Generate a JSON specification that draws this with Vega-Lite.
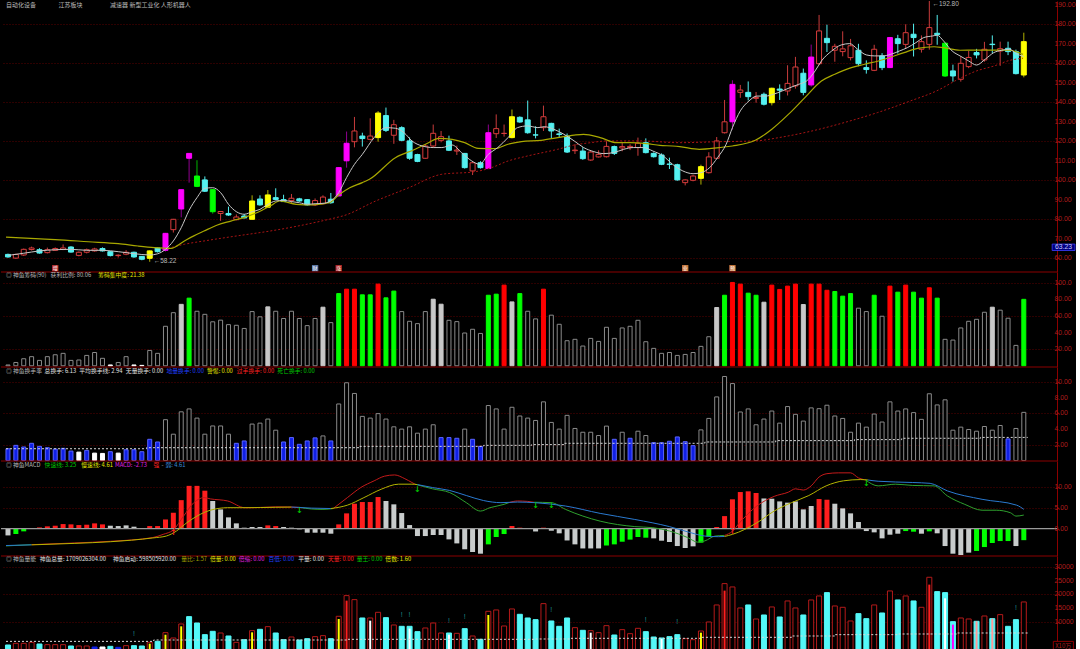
{
"$schema":"https://vega.github.io/schema/vega-lite/v6.json",
"background":"#000000",
"padding":0,
"bounds":"flush",
"spacing":0,
"config":{
 "view":{"stroke":null,"fill":"#000000"},
 "axis":{"domainColor":"#8c0000","tickColor":"#8c0000","labelColor":"#b01c1c","labelFont":"Liberation Sans","labelFontSize":6.9,"tickSize":2,"labelPadding":0.5,"gridColor":"#5a0000","gridDash":[1,2],"gridWidth":1,"labelOverlap":false,"labelFlush":false,"minExtent":0},
 "text":{"font":"Noto Sans CJK SC"}
},
"datasets":{
"k":[
{"i":0,"o":62.0,"h":62.4,"l":60.3,"c":60.7,"k":"dn","cm":1,"ck":"h","t":1.5,"tk":"b","m":-1.6,"mk":"s","v":1800,"vk":"dn"},
{"i":1,"o":60.1,"h":62.3,"l":59.8,"c":62.0,"k":"up","cm":4,"ck":"h","t":1.93,"tk":"b","m":-1.27,"mk":"n","v":2400,"vk":"up"},
{"i":2,"o":61.7,"h":65.0,"l":61.2,"c":64.6,"k":"up","cm":8.5,"ck":"h","t":1.72,"tk":"b","m":-0.63,"mk":"n","v":2400,"vk":"up"},
{"i":3,"o":64.5,"h":66.0,"l":64.0,"c":65.3,"k":"up","cm":11,"ck":"h","t":2.19,"tk":"b","m":0.05,"mk":"s","v":2760,"vk":"up"},
{"i":4,"o":64.4,"h":65.2,"l":62.4,"c":62.7,"k":"dn","cm":6.5,"ck":"h","t":1.8,"tk":"b","m":0.3,"mk":"r","v":2160,"vk":"dn"},
{"i":5,"o":62.9,"h":65.5,"l":62.5,"c":64.4,"k":"up","cm":11,"ck":"h","t":1.63,"tk":"b","m":0.56,"mk":"r","v":1920,"vk":"up"},
{"i":6,"o":64.1,"h":65.6,"l":63.8,"c":65.0,"k":"up","cm":13.3,"ck":"h","t":1.46,"tk":"b","m":0.71,"mk":"r","v":1920,"vk":"up"},
{"i":7,"o":64.5,"h":67.1,"l":64.2,"c":65.3,"k":"up","cm":15,"ck":"h","t":1.55,"tk":"b","m":1.1,"mk":"r","v":1920,"vk":"up"},
{"i":8,"o":65.8,"h":66.2,"l":62.9,"c":63.2,"k":"dn","cm":6.5,"ck":"h","t":1.2,"tk":"b","m":1.03,"mk":"r","v":1440,"vk":"dn"},
{"i":9,"o":61.5,"h":63.5,"l":61.0,"c":63.1,"k":"up","cm":7,"ck":"h","t":1.07,"tk":"w","m":0.87,"mk":"r","v":1440,"vk":"up"},
{"i":10,"o":63.1,"h":65.0,"l":62.5,"c":64.4,"k":"up","cm":12.5,"ck":"h","t":1.29,"tk":"b","m":0.95,"mk":"r","v":1440,"vk":"up"},
{"i":11,"o":63.8,"h":65.4,"l":63.4,"c":64.8,"k":"up","cm":16,"ck":"h","t":0.94,"tk":"w","m":1.27,"mk":"r","v":1080,"vk":"bl"},
{"i":12,"o":65.0,"h":65.6,"l":63.5,"c":63.8,"k":"dn","cm":9,"ck":"h","t":0.9,"tk":"w","m":1.03,"mk":"r","v":1080,"vk":"wh"},
{"i":13,"o":63.4,"h":63.7,"l":61.0,"c":61.4,"k":"dn","cm":1,"ck":"wt","t":1.12,"tk":"b","m":0.71,"mk":"s","v":1320,"vk":"dn"},
{"i":14,"o":61.4,"h":62.0,"l":60.4,"c":61.6,"k":"up","cm":4,"ck":"h","t":0.94,"tk":"w","m":0.63,"mk":"s","v":960,"vk":"bl"},
{"i":15,"o":62.1,"h":64.2,"l":61.6,"c":63.1,"k":"up","cm":11,"ck":"h","t":1.37,"tk":"b","m":0.79,"mk":"s","v":1560,"vk":"up"},
{"i":16,"o":63.1,"h":63.4,"l":60.3,"c":60.7,"k":"dn","cm":1,"ck":"wt","t":1.37,"tk":"b","m":0.48,"mk":"s","v":1560,"vk":"dn"},
{"i":17,"o":61.0,"h":61.2,"l":59.0,"c":59.5,"k":"dn","cm":0.5,"ck":"wt","t":1.12,"tk":"b","m":0.16,"mk":"s","v":1440,"vk":"dn"},
{"i":18,"o":60.0,"h":64.0,"l":58.22,"c":63.8,"k":"yel","cm":18.5,"ck":"h","t":2.7,"tk":"b","m":0.63,"mk":"r","v":2760,"vk":"up","vi":2300,"vik":"yel"},
{"i":19,"o":65.3,"h":65.6,"l":63.0,"c":63.4,"k":"dn","cm":15,"ck":"h","t":2.36,"tk":"b","m":0.63,"mk":"r","v":3120,"vk":"dn"},
{"i":20,"o":64.1,"h":73.0,"l":63.5,"c":72.8,"k":"mag","cm":47.6,"ck":"h","t":5.2,"tk":"h","m":2.2,"mk":"r","v":6240,"vk":"up","vi":5500,"vik":"yel"},
{"i":21,"o":74.7,"h":80.2,"l":73.2,"c":80.0,"k":"up","cm":64,"ck":"h","t":3.35,"tk":"h","m":3.8,"mk":"r","v":4320,"vk":"up"},
{"i":22,"o":85.3,"h":95.2,"l":81.0,"c":95.2,"k":"mag","cm":74,"ck":"sv","t":6.2,"tk":"h","m":6.8,"mk":"r","v":9360,"vk":"up","vi":8520,"vik":"yel"},
{"i":23,"o":111.3,"h":113.9,"l":98.8,"c":113.8,"k":"mag","cm":81.5,"ck":"gn","t":6.57,"tk":"h","m":10.2,"mk":"r","v":12000,"vk":"dn"},
{"i":24,"o":102.2,"h":110.3,"l":96.5,"c":96.9,"k":"grn","cm":65.7,"ck":"h","t":5.4,"tk":"h","m":10.2,"mk":"r","v":9720,"vk":"dn"},
{"i":25,"o":100.2,"h":102.0,"l":94.0,"c":94.4,"k":"dn","cm":62,"ck":"h","t":3.35,"tk":"h","m":9.05,"mk":"r","v":5520,"vk":"dn"},
{"i":26,"o":95.2,"h":95.5,"l":82.9,"c":83.9,"k":"grn","cm":53,"ck":"h","t":4.4,"tk":"h","m":6.6,"mk":"s","v":6720,"vk":"dn"},
{"i":27,"o":83.0,"h":84.2,"l":79.2,"c":84.0,"k":"up","cm":55,"ck":"h","t":4.4,"tk":"h","m":4.6,"mk":"s","v":6120,"vk":"up"},
{"i":28,"o":83.0,"h":86.5,"l":81.8,"c":82.2,"k":"dn","cm":49.6,"ck":"h","t":3.35,"tk":"h","m":2.7,"mk":"s","v":5040,"vk":"dn"},
{"i":29,"o":79.8,"h":82.5,"l":79.5,"c":81.2,"k":"up","cm":48.8,"ck":"h","t":2.19,"tk":"b","m":1.27,"mk":"s","v":2760,"vk":"up"},
{"i":30,"o":81.7,"h":82.7,"l":80.5,"c":80.7,"k":"dn","cm":45,"ck":"h","t":2.49,"tk":"b","m":0.24,"mk":"s","v":3720,"vk":"dn"},
{"i":31,"o":80.0,"h":92.3,"l":80.0,"c":89.4,"k":"yel","cm":65.3,"ck":"h","t":4.64,"tk":"h","m":0.4,"mk":"s","v":6960,"vk":"up","vi":6360,"vik":"yel"},
{"i":32,"o":90.4,"h":92.3,"l":87.0,"c":87.4,"k":"dn","cm":59,"ck":"h","t":4.76,"tk":"h","m":0.4,"mk":"s","v":7440,"vk":"dn"},
{"i":33,"o":86.2,"h":95.0,"l":86.0,"c":92.5,"k":"yel","cm":71,"ck":"sv","t":5.28,"tk":"h","m":0.79,"mk":"r","v":8400,"vk":"up"},
{"i":34,"o":91.1,"h":95.9,"l":89.8,"c":90.2,"k":"dn","cm":65.7,"ck":"h","t":3.86,"tk":"h","m":0.63,"mk":"r","v":6120,"vk":"dn"},
{"i":35,"o":90.1,"h":92.6,"l":88.9,"c":89.1,"k":"dn","cm":57,"ck":"h","t":2.36,"tk":"b","m":0.4,"mk":"s","v":3720,"vk":"dn"},
{"i":36,"o":89.6,"h":93.0,"l":88.0,"c":90.8,"k":"up","cm":65.7,"ck":"h","t":2.92,"tk":"b","m":0.24,"mk":"s","v":4680,"vk":"up"},
{"i":37,"o":90.5,"h":91.0,"l":89.0,"c":89.4,"k":"dn","cm":57,"ck":"h","t":2.06,"tk":"b","m":-0.16,"mk":"s","v":3600,"vk":"dn"},
{"i":38,"o":90.1,"h":90.4,"l":87.0,"c":87.4,"k":"dn","cm":48.4,"ck":"h","t":2.49,"tk":"b","m":-0.95,"mk":"s","v":4080,"vk":"dn"},
{"i":39,"o":87.4,"h":90.7,"l":86.8,"c":89.6,"k":"up","cm":57,"ck":"h","t":2.88,"tk":"b","m":-0.95,"mk":"s","v":4800,"vk":"up"},
{"i":40,"o":88.0,"h":92.3,"l":87.6,"c":91.4,"k":"up","cm":70.6,"ck":"sv","t":3.13,"tk":"h","m":-0.95,"mk":"s","v":5160,"vk":"up"},
{"i":41,"o":90.3,"h":93.5,"l":88.0,"c":88.5,"k":"dn","cm":52,"ck":"h","t":2.49,"tk":"b","m":-1.19,"mk":"s","v":4080,"vk":"dn"},
{"i":42,"o":92.0,"h":106.8,"l":91.8,"c":106.5,"k":"mag","cm":87,"ck":"gn","t":7.2,"tk":"h","m":1.03,"mk":"r","v":12120,"vk":"up","vi":11160,"vik":"yel"},
{"i":43,"o":110.0,"h":125.0,"l":106.5,"c":119.0,"k":"mag","cm":92.3,"ck":"rd","t":9.9,"tk":"h","m":3.65,"mk":"r","v":19560,"vk":"up","vi":17760,"vik":"red"},
{"i":44,"o":119.8,"h":132.5,"l":116.9,"c":125.3,"k":"up","cm":92.3,"ck":"rd","t":8.54,"tk":"h","m":5.95,"mk":"r","v":18120,"vk":"up"},
{"i":45,"o":122.7,"h":124.4,"l":117.3,"c":121.4,"k":"dn","cm":85.5,"ck":"gn","t":5.62,"tk":"h","m":6.35,"mk":"r","v":11520,"vk":"dn"},
{"i":46,"o":121.0,"h":131.8,"l":120.5,"c":122.7,"k":"up","cm":85.5,"ck":"gn","t":5.4,"tk":"h","m":6.35,"mk":"r","v":11520,"vk":"up","vi":10560,"vik":"wht"},
{"i":47,"o":121.9,"h":135.5,"l":119.8,"c":134.5,"k":"yel","cm":98.4,"ck":"rd","t":5.97,"tk":"h","m":7.54,"mk":"r","v":13560,"vk":"up"},
{"i":48,"o":133.2,"h":137.3,"l":124.8,"c":125.6,"k":"dn","cm":81.9,"ck":"gn","t":5.28,"tk":"h","m":6.6,"mk":"s","v":11640,"vk":"dn"},
{"i":49,"o":123.1,"h":131.0,"l":118.7,"c":128.5,"k":"up","cm":90,"ck":"gn","t":4.29,"tk":"h","m":5.8,"mk":"s","v":9000,"vk":"up"},
{"i":50,"o":127.0,"h":127.7,"l":120.0,"c":120.5,"k":"dn","cm":65.3,"ck":"h","t":4,"tk":"h","m":3.73,"mk":"s","v":8520,"vk":"dn"},
{"i":51,"o":120.2,"h":122.0,"l":110.5,"c":111.3,"k":"dn","cm":53.6,"ck":"h","t":4.29,"tk":"h","m":0.87,"mk":"s","v":8520,"vk":"dn","vi":7700,"vik":"wht"},
{"i":52,"o":113.2,"h":113.6,"l":109.3,"c":109.7,"k":"dn","cm":50.8,"ck":"h","t":3.48,"tk":"h","m":-1.75,"mk":"s","v":6600,"vk":"dn"},
{"i":53,"o":111.3,"h":118.5,"l":111.0,"c":117.6,"k":"up","cm":65.3,"ck":"h","t":4,"tk":"h","m":-1.75,"mk":"s","v":7920,"vk":"up"},
{"i":54,"o":117.6,"h":128.6,"l":116.9,"c":124.1,"k":"up","cm":80.2,"ck":"sv","t":4.55,"tk":"h","m":-1.5,"mk":"s","v":9720,"vk":"up"},
{"i":55,"o":120.5,"h":125.3,"l":119.5,"c":122.4,"k":"up","cm":74.2,"ck":"sv","t":2.92,"tk":"b","m":-1.5,"mk":"s","v":6120,"vk":"up"},
{"i":56,"o":120.2,"h":122.9,"l":115.0,"c":115.4,"k":"dn","cm":54.8,"ck":"h","t":2.92,"tk":"b","m":-2.54,"mk":"s","v":6120,"vk":"dn","vi":5500,"vik":"wht"},
{"i":57,"o":115.0,"h":117.8,"l":113.0,"c":115.5,"k":"up","cm":53.2,"ck":"h","t":2.83,"tk":"b","m":-3.5,"mk":"s","v":6000,"vk":"up"},
{"i":58,"o":113.8,"h":114.0,"l":106.0,"c":106.5,"k":"dn","cm":39.5,"ck":"h","t":4,"tk":"h","m":-4.9,"mk":"s","v":7680,"vk":"dn"},
{"i":59,"o":104.8,"h":109.4,"l":102.7,"c":109.0,"k":"up","cm":44,"ck":"h","t":2.7,"tk":"b","m":-5.55,"mk":"s","v":5040,"vk":"up"},
{"i":60,"o":109.0,"h":109.8,"l":106.0,"c":106.5,"k":"dn","cm":39,"ck":"h","t":1.8,"tk":"b","m":-5.95,"mk":"s","v":3840,"vk":"dn"},
{"i":61,"o":106.0,"h":128.6,"l":106.0,"c":124.4,"k":"mag","cm":85,"ck":"gn","t":7,"tk":"h","m":-3.73,"mk":"n","v":13920,"vk":"up","vi":12600,"vik":"yel"},
{"i":62,"o":123.9,"h":133.8,"l":121.7,"c":126.5,"k":"up","cm":86.3,"ck":"gn","t":6.57,"tk":"h","m":-1.98,"mk":"n","v":14400,"vk":"up"},
{"i":63,"o":124.0,"h":128.6,"l":122.4,"c":124.1,"k":"up","cm":97.2,"ck":"rd","t":4,"tk":"h","m":-1.27,"mk":"n","v":8640,"vk":"up"},
{"i":64,"o":121.9,"h":136.3,"l":121.5,"c":132.6,"k":"yel","cm":77,"ck":"sv","t":6.78,"tk":"h","m":0.63,"mk":"r","v":14760,"vk":"up"},
{"i":65,"o":132.3,"h":132.8,"l":129.5,"c":129.9,"k":"dn","cm":87,"ck":"gn","t":5.67,"tk":"h","m":0.24,"mk":"r","v":12840,"vk":"dn"},
{"i":66,"o":131.0,"h":140.9,"l":123.9,"c":124.4,"k":"dn","cm":65.7,"ck":"h","t":5.4,"tk":"h","m":0.05,"mk":"s","v":11520,"vk":"dn"},
{"i":67,"o":123.3,"h":127.7,"l":121.5,"c":123.2,"k":"dn","cm":56.5,"ck":"h","t":5.1,"tk":"h","m":-0.66,"mk":"s","v":10920,"vk":"dn"},
{"i":68,"o":127.0,"h":138.3,"l":125.3,"c":132.6,"k":"up","cm":92.3,"ck":"rd","t":7.47,"tk":"h","m":0.24,"mk":"r","v":16680,"vk":"up"},
{"i":69,"o":129.2,"h":129.5,"l":121.7,"c":125.3,"k":"dn","cm":61,"ck":"h","t":4.85,"tk":"h","m":-0.48,"mk":"s","v":10440,"vk":"dn"},
{"i":70,"o":123.8,"h":126.5,"l":122.0,"c":123.5,"k":"dn","cm":50,"ck":"h","t":4,"tk":"h","m":-1.1,"mk":"s","v":8520,"vk":"dn"},
{"i":71,"o":122.7,"h":124.0,"l":114.0,"c":114.5,"k":"dn","cm":30.2,"ck":"h","t":5.75,"tk":"h","m":-2.8,"mk":"s","v":11520,"vk":"dn"},
{"i":72,"o":115.2,"h":118.5,"l":113.5,"c":115.5,"k":"up","cm":31.9,"ck":"h","t":4.08,"tk":"h","m":-3.73,"mk":"s","v":8040,"vk":"up"},
{"i":73,"o":115.0,"h":117.0,"l":110.5,"c":111.1,"k":"dn","cm":23.8,"ck":"h","t":3.6,"tk":"h","m":-4.7,"mk":"s","v":7080,"vk":"dn"},
{"i":74,"o":110.4,"h":115.5,"l":110.0,"c":114.5,"k":"up","cm":33,"ck":"h","t":3.6,"tk":"h","m":-4.7,"mk":"s","v":6960,"vk":"up","vi":6240,"vik":"wht"},
{"i":75,"o":112.0,"h":115.4,"l":111.7,"c":113.3,"k":"up","cm":29.4,"ck":"h","t":3.18,"tk":"h","m":-4.7,"mk":"s","v":6240,"vk":"up"},
{"i":76,"o":112.1,"h":120.0,"l":111.7,"c":117.4,"k":"up","cm":46.4,"ck":"h","t":4.38,"tk":"h","m":-4,"mk":"n","v":8760,"vk":"up"},
{"i":77,"o":117.3,"h":117.8,"l":113.0,"c":113.8,"k":"dn","cm":33,"ck":"h","t":2.7,"tk":"b","m":-3.73,"mk":"n","v":5400,"vk":"dn"},
{"i":78,"o":116.6,"h":119.4,"l":114.9,"c":117.3,"k":"up","cm":45.6,"ck":"h","t":3.6,"tk":"h","m":-3.1,"mk":"n","v":7320,"vk":"up"},
{"i":79,"o":116.8,"h":118.5,"l":115.5,"c":117.4,"k":"up","cm":47.6,"ck":"h","t":2.83,"tk":"b","m":-2.6,"mk":"n","v":5880,"vk":"up"},
{"i":80,"o":116.8,"h":121.9,"l":112.6,"c":119.0,"k":"up","cm":54.8,"ck":"h","t":3.73,"tk":"h","m":-1.98,"mk":"n","v":7800,"vk":"up"},
{"i":81,"o":119.3,"h":121.5,"l":113.8,"c":114.2,"k":"dn","cm":29,"ck":"h","t":3.18,"tk":"h","m":-2.14,"mk":"n","v":6600,"vk":"dn"},
{"i":82,"o":113.8,"h":114.3,"l":111.7,"c":112.1,"k":"dn","cm":21,"ck":"h","t":2.27,"tk":"b","m":-2.3,"mk":"s","v":4680,"vk":"dn"},
{"i":83,"o":113.0,"h":113.8,"l":107.8,"c":108.2,"k":"dn","cm":15,"ck":"h","t":2.27,"tk":"b","m":-2.86,"mk":"s","v":4320,"vk":"dn","vi":4000,"vik":"wht"},
{"i":84,"o":108.3,"h":111.6,"l":105.8,"c":108.2,"k":"dn","cm":16,"ck":"h","t":2.45,"tk":"b","m":-3.17,"mk":"s","v":4800,"vk":"dn"},
{"i":85,"o":108.0,"h":108.5,"l":99.8,"c":100.2,"k":"dn","cm":12.5,"ck":"h","t":3,"tk":"b","m":-4.13,"mk":"s","v":5520,"vk":"dn"},
{"i":86,"o":98.8,"h":100.5,"l":97.4,"c":100.2,"k":"up","cm":13.7,"ck":"h","t":2.4,"tk":"b","m":-4.6,"mk":"s","v":4080,"vk":"up"},
{"i":87,"o":100.0,"h":102.8,"l":99.5,"c":102.2,"k":"up","cm":16,"ck":"h","t":1.89,"tk":"b","m":-4.2,"mk":"s","v":3720,"vk":"up"},
{"i":88,"o":101.0,"h":108.0,"l":97.8,"c":107.0,"k":"yel","cm":23.4,"ck":"h","t":3.9,"tk":"h","m":-3.33,"mk":"n","v":6840,"vk":"up","vi":6240,"vik":"yel"},
{"i":89,"o":103.9,"h":114.4,"l":103.5,"c":112.0,"k":"up","cm":35,"ck":"h","t":5.36,"tk":"h","m":-1.9,"mk":"n","v":10080,"vk":"up"},
{"i":90,"o":111.3,"h":122.2,"l":111.0,"c":120.2,"k":"up","cm":70.2,"ck":"sv","t":8.1,"tk":"h","m":0.4,"mk":"r","v":16200,"vk":"up"},
{"i":91,"o":124.4,"h":141.2,"l":124.0,"c":130.0,"k":"up","cm":85,"ck":"gn","t":10.7,"tk":"h","m":3,"mk":"r","v":23880,"vk":"up","vi":21360,"vik":"red"},
{"i":92,"o":130.0,"h":151.3,"l":126.0,"c":149.2,"k":"mag","cm":100.4,"ck":"rd","t":9.8,"tk":"h","m":7,"mk":"r","v":22680,"vk":"up"},
{"i":93,"o":145.1,"h":148.9,"l":142.3,"c":146.3,"k":"up","cm":98.4,"ck":"rd","t":6.18,"tk":"h","m":8.73,"mk":"r","v":15120,"vk":"up"},
{"i":94,"o":145.1,"h":150.7,"l":141.0,"c":142.9,"k":"dn","cm":87.5,"ck":"gn","t":6.57,"tk":"h","m":8.9,"mk":"r","v":16200,"vk":"dn"},
{"i":95,"o":142.0,"h":145.3,"l":139.8,"c":142.5,"k":"up","cm":85,"ck":"gn","t":4.55,"tk":"h","m":8.5,"mk":"r","v":11160,"vk":"up"},
{"i":96,"o":144.1,"h":145.0,"l":138.4,"c":139.0,"k":"dn","cm":76.6,"ck":"sv","t":5.28,"tk":"h","m":7.2,"mk":"s","v":12600,"vk":"dn"},
{"i":97,"o":139.8,"h":147.5,"l":138.4,"c":147.2,"k":"yel","cm":97.2,"ck":"rd","t":6.3,"tk":"h","m":7.14,"mk":"s","v":15480,"vk":"up"},
{"i":98,"o":146.8,"h":149.2,"l":141.2,"c":146.2,"k":"dn","cm":92,"ck":"rd","t":4.76,"tk":"h","m":6.5,"mk":"s","v":11880,"vk":"dn"},
{"i":99,"o":145.8,"h":159.0,"l":143.5,"c":149.7,"k":"up","cm":96,"ck":"rd","t":6.87,"tk":"h","m":6.2,"mk":"s","v":17640,"vk":"up"},
{"i":100,"o":148.4,"h":163.3,"l":147.0,"c":158.1,"k":"up","cm":98.4,"ck":"rd","t":5.88,"tk":"h","m":6.5,"mk":"s","v":15120,"vk":"up"},
{"i":101,"o":154.9,"h":157.3,"l":143.6,"c":145.1,"k":"dn","cm":73.8,"ck":"sv","t":5.02,"tk":"h","m":4.6,"mk":"s","v":12600,"vk":"dn"},
{"i":102,"o":148.9,"h":169.6,"l":148.0,"c":163.2,"k":"mag","cm":98.4,"ck":"rd","t":6.7,"tk":"h","m":5.4,"mk":"s","v":18000,"vk":"up"},
{"i":103,"o":159.8,"h":184.8,"l":159.0,"c":176.6,"k":"up","cm":98.4,"ck":"rd","t":6.6,"tk":"h","m":7.06,"mk":"r","v":19440,"vk":"up"},
{"i":104,"o":172.8,"h":179.8,"l":165.8,"c":170.6,"k":"dn","cm":91,"ck":"rd","t":7.04,"tk":"h","m":6.9,"mk":"r","v":20640,"vk":"dn"},
{"i":105,"o":166.7,"h":170.0,"l":160.8,"c":168.7,"k":"up","cm":89.5,"ck":"gn","t":5.67,"tk":"h","m":5.95,"mk":"s","v":15840,"vk":"up"},
{"i":106,"o":166.0,"h":176.4,"l":163.6,"c":167.4,"k":"up","cm":83.9,"ck":"gn","t":5.36,"tk":"h","m":4.84,"mk":"s","v":15360,"vk":"up"},
{"i":107,"o":162.9,"h":172.5,"l":161.5,"c":169.0,"k":"up","cm":87,"ck":"gn","t":3.6,"tk":"h","m":3.65,"mk":"s","v":10440,"vk":"up"},
{"i":108,"o":166.7,"h":170.0,"l":158.5,"c":159.8,"k":"dn","cm":69.4,"ck":"h","t":4.76,"tk":"h","m":1.59,"mk":"s","v":13080,"vk":"dn"},
{"i":109,"o":157.8,"h":161.5,"l":154.7,"c":156.8,"k":"dn","cm":65.3,"ck":"h","t":4.25,"tk":"h","m":-0.56,"mk":"s","v":11280,"vk":"dn"},
{"i":110,"o":156.4,"h":169.5,"l":156.0,"c":167.2,"k":"up","cm":85,"ck":"gn","t":5.92,"tk":"h","m":-0.87,"mk":"s","v":16200,"vk":"up"},
{"i":111,"o":163.8,"h":165.2,"l":156.5,"c":157.8,"k":"dn","cm":59.7,"ck":"h","t":4.9,"tk":"h","m":-2.3,"mk":"s","v":13320,"vk":"dn"},
{"i":112,"o":157.8,"h":173.5,"l":157.6,"c":173.2,"k":"mag","cm":96,"ck":"rd","t":7.47,"tk":"h","m":-1.43,"mk":"s","v":21240,"vk":"up"},
{"i":113,"o":172.6,"h":174.6,"l":165.0,"c":170.1,"k":"dn","cm":88.7,"ck":"gn","t":6.3,"tk":"h","m":-1.19,"mk":"s","v":18000,"vk":"dn"},
{"i":114,"o":169.7,"h":180.0,"l":167.5,"c":175.7,"k":"up","cm":97.2,"ck":"rd","t":6.57,"tk":"h","m":-0.56,"mk":"n","v":19440,"vk":"up"},
{"i":115,"o":174.9,"h":180.3,"l":163.5,"c":173.2,"k":"dn","cm":88.7,"ck":"gn","t":6.1,"tk":"h","m":-0.71,"mk":"n","v":17640,"vk":"dn"},
{"i":116,"o":167.2,"h":174.3,"l":165.5,"c":171.1,"k":"up","cm":81.5,"ck":"gn","t":5.24,"tk":"h","m":-1.19,"mk":"s","v":15360,"vk":"up"},
{"i":117,"o":169.7,"h":192.8,"l":167.0,"c":178.3,"k":"up","cm":94,"ck":"rd","t":8.5,"tk":"h","m":-0.63,"mk":"n","v":26160,"vk":"up","vi":23520,"vik":"red"},
{"i":118,"o":175.4,"h":184.8,"l":169.5,"c":174.7,"k":"dn","cm":81.5,"ck":"gn","t":7.08,"tk":"h","m":-1.1,"mk":"s","v":21000,"vk":"dn"},
{"i":119,"o":170.3,"h":170.5,"l":153.0,"c":153.5,"k":"grn","cm":31.9,"ck":"h","t":7.73,"tk":"h","m":-4.13,"mk":"s","v":20640,"vk":"dn","vi":18600,"vik":"wht"},
{"i":120,"o":156.1,"h":159.3,"l":150.6,"c":153.5,"k":"dn","cm":31,"ck":"h","t":3.86,"tk":"h","m":-5.95,"mk":"s","v":10200,"vk":"dn","vi":9120,"vik":"mag"},
{"i":121,"o":151.8,"h":163.5,"l":150.6,"c":160.0,"k":"up","cm":45.6,"ck":"h","t":4.25,"tk":"h","m":-6.27,"mk":"s","v":11520,"vk":"up"},
{"i":122,"o":158.3,"h":166.4,"l":157.5,"c":163.0,"k":"up","cm":53.6,"ck":"h","t":3.95,"tk":"h","m":-5.7,"mk":"s","v":11160,"vk":"up"},
{"i":123,"o":165.5,"h":167.4,"l":162.5,"c":164.3,"k":"dn","cm":56,"ck":"h","t":3.73,"tk":"h","m":-5.3,"mk":"n","v":10320,"vk":"dn","vi":10320,"vik":"pnk"},
{"i":124,"o":161.7,"h":171.0,"l":160.8,"c":167.2,"k":"up","cm":64.5,"ck":"h","t":4.33,"tk":"h","m":-4.37,"mk":"n","v":12240,"vk":"up"},
{"i":125,"o":169.8,"h":174.3,"l":165.3,"c":169.6,"k":"dn","cm":70.6,"ck":"sv","t":3.86,"tk":"h","m":-3.4,"mk":"n","v":11280,"vk":"dn","vi":11280,"vik":"pnk"},
{"i":126,"o":166.3,"h":171.1,"l":158.7,"c":167.5,"k":"up","cm":67,"ck":"h","t":4.46,"tk":"h","m":-2.94,"mk":"n","v":12720,"vk":"up"},
{"i":127,"o":167.7,"h":171.1,"l":164.2,"c":166.0,"k":"dn","cm":57.3,"ck":"h","t":2.75,"tk":"b","m":-2.94,"mk":"n","v":8520,"vk":"dn"},
{"i":128,"o":166.0,"h":167.0,"l":154.3,"c":154.7,"k":"dn","cm":24.6,"ck":"h","t":4.08,"tk":"h","m":-4.13,"mk":"s","v":10920,"vk":"dn"},
{"i":129,"o":154.0,"h":175.7,"l":152.8,"c":171.1,"k":"yel","cm":80.06,"ck":"gn","t":6.13,"tk":"h","m":-2.73,"mk":"n","v":17280,"vk":"up"}
],
"ma5":[{"i":0,"v":61.5},{"i":2,"v":62.6},{"i":4,"v":63.8},{"i":6,"v":64.4},{"i":8,"v":64.6},{"i":10,"v":64.1},{"i":12,"v":64.1},{"i":14,"v":63.4},{"i":16,"v":62.4},{"i":18,"v":61.7},{"i":19,"v":62.3},{"i":20,"v":64.6},{"i":21,"v":68.9},{"i":22,"v":75.7},{"i":23,"v":84.6},{"i":24,"v":91.1},{"i":25,"v":95.9},{"i":26,"v":96.2},{"i":27,"v":93.7},{"i":28,"v":87.7},{"i":29,"v":83.9},{"i":30,"v":82.6},{"i":31,"v":83.9},{"i":32,"v":85.1},{"i":33,"v":87.7},{"i":34,"v":89.4},{"i":35,"v":89.7},{"i":36,"v":89.1},{"i":37,"v":88.5},{"i":38,"v":87.7},{"i":39,"v":88.0},{"i":40,"v":88.2},{"i":41,"v":89.4},{"i":42,"v":93.7},{"i":43,"v":101.4},{"i":44,"v":108.2},{"i":45,"v":113.3},{"i":46.5,"v":121.9},{"i":48,"v":127.0},{"i":49.2,"v":126.7},{"i":50.3,"v":124.4},{"i":51.3,"v":120.2},{"i":52.6,"v":117.6},{"i":54,"v":116.8},{"i":55.1,"v":116.8},{"i":56.4,"v":118.1},{"i":57.6,"v":114.2},{"i":58.9,"v":109.9},{"i":59.9,"v":108.2},{"i":61,"v":113.3},{"i":62.2,"v":116.8},{"i":63.5,"v":121.9},{"i":64.7,"v":127.0},{"i":66,"v":127.9},{"i":67.3,"v":127.0},{"i":68.1,"v":127.5},{"i":69.3,"v":126.2},{"i":70.6,"v":123.6},{"i":71.9,"v":120.2},{"i":73.1,"v":116.8},{"i":74.4,"v":114.7},{"i":75.6,"v":113.7},{"i":76.9,"v":114.2},{"i":78.2,"v":115.9},{"i":79.4,"v":116.8},{"i":80.7,"v":116.8},{"i":81.9,"v":115.0},{"i":83.2,"v":112.5},{"i":84.4,"v":108.2},{"i":85.7,"v":104.8},{"i":87,"v":103.4},{"i":88,"v":103.9},{"i":89.1,"v":106.5},{"i":90.1,"v":111.6},{"i":91.2,"v":118.5},{"i":92,"v":127.0},{"i":93,"v":135.6},{"i":94.1,"v":140.7},{"i":95.1,"v":143.2},{"i":96.2,"v":143.2},{"i":97.2,"v":144.1},{"i":98.3,"v":145.8},{"i":99.3,"v":147.5},{"i":100.4,"v":149.2},{"i":101.4,"v":150.9},{"i":102.5,"v":156.1},{"i":103.3,"v":161.2},{"i":104.6,"v":166.3},{"i":105.8,"v":169.4},{"i":106.9,"v":170.1},{"i":107.9,"v":167.2},{"i":109,"v":164.3},{"i":110,"v":163.8},{"i":111.1,"v":163.8},{"i":112.1,"v":164.6},{"i":113.2,"v":166.3},{"i":114.2,"v":168.0},{"i":115.3,"v":170.6},{"i":116.3,"v":173.2},{"i":117.4,"v":174.0},{"i":118,"v":174.4},{"i":118.8,"v":171.5},{"i":119.9,"v":166.3},{"i":120.9,"v":163.8},{"i":122,"v":161.2},{"i":123,"v":159.1},{"i":124.1,"v":162.1},{"i":125.2,"v":165.5},{"i":126.2,"v":166.7},{"i":127.2,"v":167.2},{"i":128,"v":165.0},{"i":129,"v":163.5}],
"ma20":[{"i":-0.25,"v":70.9},{"i":3.5,"v":70.1},{"i":6,"v":69.6},{"i":10.2,"v":68.5},{"i":14,"v":67.5},{"i":16.5,"v":66.3},{"i":18.6,"v":65.5},{"i":20.7,"v":65.1},{"i":22.4,"v":68.9},{"i":23.6,"v":71.5},{"i":24.9,"v":74.0},{"i":26.6,"v":77.1},{"i":28.3,"v":79.1},{"i":29.9,"v":80.9},{"i":31.6,"v":83.4},{"i":33.3,"v":86.8},{"i":34.5,"v":89.4},{"i":36.6,"v":87.7},{"i":38.7,"v":87.4},{"i":40.8,"v":88.5},{"i":42.1,"v":92.8},{"i":43.4,"v":96.2},{"i":45,"v":98.8},{"i":45.9,"v":100.5},{"i":49.2,"v":111.6},{"i":51.7,"v":115.9},{"i":53.4,"v":119.3},{"i":54.7,"v":121.5},{"i":56.4,"v":121.0},{"i":58,"v":119.3},{"i":59.7,"v":116.4},{"i":61.8,"v":116.2},{"i":63.5,"v":118.5},{"i":65.2,"v":119.8},{"i":67.7,"v":120.5},{"i":69.8,"v":121.9},{"i":71.9,"v":123.2},{"i":73.1,"v":123.6},{"i":75.2,"v":121.9},{"i":77.3,"v":119.3},{"i":79,"v":119.3},{"i":81.1,"v":118.8},{"i":82.8,"v":117.9},{"i":84.4,"v":117.6},{"i":85.3,"v":117.3},{"i":87.8,"v":115.9},{"i":90.3,"v":116.8},{"i":92,"v":117.6},{"i":94.9,"v":120.5},{"i":97,"v":126.2},{"i":99.1,"v":133.8},{"i":101.2,"v":142.4},{"i":103.3,"v":150.9},{"i":105,"v":154.4},{"i":107.1,"v":157.8},{"i":108.8,"v":159.5},{"i":111.3,"v":162.1},{"i":113.8,"v":165.5},{"i":115.5,"v":167.7},{"i":117.6,"v":168.5},{"i":118.8,"v":168.0},{"i":120.9,"v":166.7},{"i":123,"v":166.8},{"i":125.2,"v":166.8},{"i":127.2,"v":166.7},{"i":128.9,"v":164.6}],
"ma60":[{"i":20.3,"v":65.1},{"i":22.4,"v":67.2},{"i":24.9,"v":68.9},{"i":29.1,"v":71.5},{"i":33.3,"v":74.0},{"i":37.5,"v":77.1},{"i":41.7,"v":80.9},{"i":42.5,"v":81.7},{"i":46.7,"v":89.4},{"i":50.9,"v":96.2},{"i":55.1,"v":103.1},{"i":59.3,"v":104.4},{"i":61.4,"v":106.5},{"i":63.5,"v":109.9},{"i":66,"v":112.5},{"i":69.8,"v":115.9},{"i":71.9,"v":118.1},{"i":74,"v":119.3},{"i":76.1,"v":120.2},{"i":80.3,"v":120.2},{"i":85.3,"v":119.3},{"i":90.3,"v":119.8},{"i":94.9,"v":120.2},{"i":97.9,"v":121.9},{"i":102.1,"v":125.3},{"i":106.2,"v":129.6},{"i":110.4,"v":134.7},{"i":114.6,"v":140.7},{"i":117.9,"v":145.8},{"i":120.9,"v":152.3},{"i":123,"v":156.1},{"i":125.2,"v":158.6},{"i":127.2,"v":161.5},{"i":128.9,"v":162.6}],
"macdl":[
{"i":-0.25,"v":-4.1,"g":"d1","c":"ddn"},{"i":3,"v":-3.8,"g":"d1","c":"ddn"},
{"i":3,"v":-3.8,"g":"d2","c":"dup"},{"i":8.4,"v":-3.4,"g":"d2","c":"dup"},{"i":13,"v":-3.0,"g":"d2","c":"dup"},{"i":18.4,"v":-2.1,"g":"d2","c":"dup"},{"i":19.7,"v":-1.35,"g":"d2","c":"dup"},{"i":21,"v":-0.3,"g":"d2","c":"dup"},{"i":22.3,"v":3.0,"g":"d2","c":"dup"},{"i":23.6,"v":6.2,"g":"d2","c":"dup"},{"i":24.9,"v":7.4,"g":"d2","c":"dup"},{"i":25.7,"v":7.1,"g":"d2","c":"dup"},{"i":27.9,"v":6.6,"g":"d2","c":"dup"},{"i":30.1,"v":5.0,"g":"d2","c":"dup"},{"i":31,"v":5.0,"g":"d2","c":"dup"},{"i":34,"v":5.2,"g":"d2","c":"dup"},{"i":37,"v":5.1,"g":"d2","c":"dup"},
{"i":37,"v":5.1,"g":"d3","c":"ddn"},{"i":38.5,"v":4.7,"g":"d3","c":"ddn"},{"i":40,"v":4.6,"g":"d3","c":"ddn"},{"i":41.3,"v":4.8,"g":"d3","c":"ddn"},
{"i":41.3,"v":4.8,"g":"d4","c":"dup"},{"i":43.1,"v":7.4,"g":"d4","c":"dup"},{"i":44.8,"v":9.8,"g":"d4","c":"dup"},{"i":46.5,"v":11.4,"g":"d4","c":"dup"},{"i":47.8,"v":12.5,"g":"d4","c":"dup"},{"i":49.1,"v":12.8,"g":"d4","c":"dup"},{"i":50.4,"v":11.9,"g":"d4","c":"dup"},{"i":51.3,"v":11.0,"g":"d4","c":"dup"},{"i":51.7,"v":10.6,"g":"d4","c":"dup"},
{"i":51.7,"v":10.6,"g":"d5","c":"ddn"},{"i":53.9,"v":9.5,"g":"d5","c":"ddn"},{"i":56.1,"v":8.6,"g":"d5","c":"ddn"},{"i":58.2,"v":6.2,"g":"d5","c":"ddn"},{"i":60,"v":4.2,"g":"d5","c":"ddn"},{"i":61.2,"v":5.0,"g":"d5","c":"ddn"},{"i":63,"v":5.8,"g":"d5","c":"ddn"},{"i":63.6,"v":6.2,"g":"d5","c":"ddn"},
{"i":63.6,"v":6.2,"g":"d6","c":"dup"},{"i":64.7,"v":6.6,"g":"d6","c":"dup"},{"i":66,"v":6.5,"g":"d6","c":"dup"},{"i":66.8,"v":6.3,"g":"d6","c":"dup"},
{"i":66.8,"v":6.3,"g":"d7","c":"ddn"},{"i":69,"v":6.2,"g":"d7","c":"ddn"},{"i":70.8,"v":4.6,"g":"d7","c":"ddn"},{"i":75.2,"v":1.8,"g":"d7","c":"ddn"},{"i":79.6,"v":0.5,"g":"d7","c":"ddn"},{"i":81.9,"v":0.24,"g":"d7","c":"ddn"},{"i":84,"v":-0.55,"g":"d7","c":"ddn"},{"i":86.3,"v":-2.1,"g":"d7","c":"ddn"},{"i":87.6,"v":-3.2,"g":"d7","c":"ddn"},{"i":88.5,"v":-2.9,"g":"d7","c":"ddn"},{"i":89.8,"v":-1.75,"g":"d7","c":"ddn"},{"i":91,"v":-1.6,"g":"d7","c":"ddn"},
{"i":91,"v":-1.6,"g":"d8","c":"dup"},{"i":92,"v":-0.6,"g":"d8","c":"dup"},{"i":92.9,"v":1.4,"g":"d8","c":"dup"},{"i":95.1,"v":5.4,"g":"d8","c":"dup"},{"i":97.3,"v":7.7,"g":"d8","c":"dup"},{"i":99.1,"v":8.7,"g":"d8","c":"dup"},{"i":100,"v":9.5,"g":"d8","c":"dup"},{"i":101,"v":9.2,"g":"d8","c":"dup"},{"i":102,"v":10.2,"g":"d8","c":"dup"},{"i":103,"v":12.3,"g":"d8","c":"dup"},{"i":104,"v":13.1,"g":"d8","c":"dup"},{"i":105.5,"v":13.3,"g":"d8","c":"dup"},{"i":107,"v":13.3,"g":"d8","c":"dup"},{"i":108,"v":12.1,"g":"d8","c":"dup"},{"i":108.9,"v":11.6,"g":"d8","c":"dup"},
{"i":108.9,"v":11.6,"g":"d9","c":"ddn"},{"i":110.5,"v":10.2,"g":"d9","c":"ddn"},{"i":112.7,"v":10.6,"g":"d9","c":"ddn"},{"i":114.9,"v":10.3,"g":"d9","c":"ddn"},{"i":117.6,"v":10.2,"g":"d9","c":"ddn"},{"i":119.3,"v":7.8,"g":"d9","c":"ddn"},{"i":121.5,"v":5.8,"g":"d9","c":"ddn"},{"i":123.7,"v":4.4,"g":"d9","c":"ddn"},{"i":125.5,"v":4.4,"g":"d9","c":"ddn"},{"i":127.3,"v":3.8,"g":"d9","c":"ddn"},{"i":128,"v":3.0,"g":"d9","c":"ddn"},{"i":129,"v":3.25,"g":"d9","c":"ddn"},
{"i":-0.25,"v":-4.0,"g":"e1","c":"edn"},{"i":3,"v":-3.85,"g":"e1","c":"edn"},
{"i":3,"v":-3.85,"g":"e2","c":"eup"},{"i":8.4,"v":-3.5,"g":"e2","c":"eup"},{"i":13,"v":-3.1,"g":"e2","c":"eup"},{"i":18.4,"v":-2.2,"g":"e2","c":"eup"},{"i":20.1,"v":-1.75,"g":"e2","c":"eup"},{"i":21.4,"v":-0.55,"g":"e2","c":"eup"},{"i":22.7,"v":1.4,"g":"e2","c":"eup"},{"i":24,"v":3.0,"g":"e2","c":"eup"},{"i":25.7,"v":4.4,"g":"e2","c":"eup"},{"i":27.9,"v":5.0,"g":"e2","c":"eup"},{"i":30.1,"v":5.0,"g":"e2","c":"eup"},{"i":34,"v":5.1,"g":"e2","c":"eup"},{"i":36,"v":5.15,"g":"e2","c":"eup"},
{"i":36,"v":5.15,"g":"e3","c":"edn"},{"i":38.5,"v":4.9,"g":"e3","c":"edn"},{"i":41,"v":4.8,"g":"e3","c":"edn"},
{"i":41,"v":4.8,"g":"e4","c":"eup"},{"i":43.1,"v":5.6,"g":"e4","c":"eup"},{"i":45.2,"v":7.4,"g":"e4","c":"eup"},{"i":47.4,"v":9.4,"g":"e4","c":"eup"},{"i":49.6,"v":10.6,"g":"e4","c":"eup"},{"i":51.3,"v":10.6,"g":"e4","c":"eup"},{"i":52,"v":10.5,"g":"e4","c":"eup"},
{"i":52,"v":10.5,"g":"e5","c":"edn"},{"i":53.9,"v":9.8,"g":"e5","c":"edn"},{"i":56.1,"v":9.1,"g":"e5","c":"edn"},{"i":58.2,"v":7.9,"g":"e5","c":"edn"},{"i":60.4,"v":6.7,"g":"e5","c":"edn"},{"i":62.6,"v":6.2,"g":"e5","c":"edn"},{"i":64.7,"v":6.35,"g":"e5","c":"edn"},{"i":66.9,"v":6.2,"g":"e5","c":"edn"},{"i":70.8,"v":5.4,"g":"e5","c":"edn"},{"i":75.2,"v":3.65,"g":"e5","c":"edn"},{"i":79.6,"v":2.2,"g":"e5","c":"edn"},{"i":84,"v":0.5,"g":"e5","c":"edn"},{"i":86.7,"v":-0.95,"g":"e5","c":"edn"},{"i":88.5,"v":-1.75,"g":"e5","c":"edn"},{"i":90.2,"v":-1.9,"g":"e5","c":"edn"},{"i":91,"v":-1.85,"g":"e5","c":"edn"},
{"i":91,"v":-1.85,"g":"e6","c":"eup"},{"i":92,"v":-1.35,"g":"e6","c":"eup"},{"i":95.1,"v":1.4,"g":"e6","c":"eup"},{"i":97.3,"v":4.2,"g":"e6","c":"eup"},{"i":99.5,"v":6.2,"g":"e6","c":"eup"},{"i":101.7,"v":7.9,"g":"e6","c":"eup"},{"i":103.9,"v":10.2,"g":"e6","c":"eup"},{"i":106.1,"v":11.4,"g":"e6","c":"eup"},{"i":108.3,"v":11.7,"g":"e6","c":"eup"},{"i":109.2,"v":11.6,"g":"e6","c":"eup"},
{"i":109.2,"v":11.6,"g":"e7","c":"edn"},{"i":110.5,"v":11.3,"g":"e7","c":"edn"},{"i":114.9,"v":11.0,"g":"e7","c":"edn"},{"i":117.1,"v":10.8,"g":"e7","c":"edn"},{"i":119.3,"v":9.0,"g":"e7","c":"edn"},{"i":123.7,"v":7.0,"g":"e7","c":"edn"},{"i":128.1,"v":5.6,"g":"e7","c":"edn"},{"i":129,"v":4.61,"g":"e7","c":"edn"}
],
"tavg":[{"i":-0.25,"v":1.5},{"i":17.6,"v":1.63},{"i":44.6,"v":1.8},{"i":60.4,"v":1.93},{"i":66.5,"v":2.02},{"i":70.6,"v":2.19},{"i":88.5,"v":2.36},{"i":97.5,"v":2.53},{"i":107.5,"v":2.66},{"i":113.5,"v":2.83},{"i":123.5,"v":2.94},{"i":129.5,"v":2.94}],
"vavg":[{"i":-0.25,"v":3100},{"i":18.5,"v":3600},{"i":43,"v":3840},{"i":67,"v":3960},{"i":71.5,"v":4200},{"i":88,"v":4560},{"i":99.5,"v":5040},{"i":105,"v":5520},{"i":113,"v":5760},{"i":120.6,"v":6120},{"i":129.5,"v":6120}],
"yl":[
{"p":1,"v":60,"s":"60.00"},{"p":1,"v":70,"s":"70.00"},{"p":1,"v":80,"s":"80.00"},{"p":1,"v":90,"s":"90.00"},{"p":1,"v":100,"s":"100.00"},{"p":1,"v":110,"s":"110.00"},{"p":1,"v":120,"s":"120.00"},{"p":1,"v":130,"s":"130.00"},{"p":1,"v":140,"s":"140.00"},{"p":1,"v":150,"s":"150.00"},{"p":1,"v":160,"s":"160.00"},{"p":1,"v":170,"s":"170.00"},{"p":1,"v":180,"s":"180.00"},{"p":1,"v":190,"s":"190.00"},
{"p":2,"v":20,"s":"20.00"},{"p":2,"v":40,"s":"40.00"},{"p":2,"v":60,"s":"60.00"},{"p":2,"v":80,"s":"80.00"},{"p":2,"v":100,"s":"100.0"},
{"p":3,"v":2,"s":"2.00"},{"p":3,"v":4,"s":"4.00"},{"p":3,"v":6,"s":"6.00"},{"p":3,"v":8,"s":"8.00"},{"p":3,"v":10,"s":"10.00"},
{"p":4,"v":0,"s":"0.00"},{"p":4,"v":5,"s":"5.00"},{"p":4,"v":10,"s":"10.00"},
{"p":5,"v":10000,"s":"10000"},{"p":5,"v":15000,"s":"15000"},{"p":5,"v":20000,"s":"20000"},{"p":5,"v":25000,"s":"25000"},{"p":5,"v":30000,"s":"30000"}
],
"txt":[
{"p":0,"x":-0.25,"t":"自动化设备","r":"gray"},
{"p":0,"x":6.4,"t":"江苏板块","r":"gray"},
{"p":0,"x":12.96,"t":"减速器 新型工业化 人形机器人","r":"gray"},
{"p":2,"x":-0.25,"t":"◎","r":"gray"},
{"p":2,"x":0.63,"t":"神鱼筹码(90)","r":"gray"},
{"p":2,"x":5.41,"t":"获利比例: 80.06","r":"gray"},
{"p":2,"x":11.45,"t":"筹码集中度: 21.38","r":"yellow"},
{"p":3,"x":-0.25,"t":"◎","r":"gray"},
{"p":3,"x":0.63,"t":"神鱼换手率","r":"gray"},
{"p":3,"x":4.65,"t":"总换手: 6.13","r":"white"},
{"p":3,"x":9.06,"t":"平均换手线: 2.94","r":"white"},
{"p":3,"x":14.97,"t":"无量换手: 0.00","r":"white"},
{"p":3,"x":20.13,"t":"地量换手: 0.00","r":"blue"},
{"p":3,"x":25.28,"t":"警惕: 0.00","r":"yellow"},
{"p":3,"x":29.06,"t":"过手换手: 0.00","r":"red"},
{"p":3,"x":34.21,"t":"死亡换手: 0.00","r":"green"},
{"p":4,"x":-0.25,"t":"◎","r":"gray"},
{"p":4,"x":0.63,"t":"神鱼MACD","r":"gray"},
{"p":4,"x":4.65,"t":"快速线: 3.25","r":"green"},
{"p":4,"x":9.31,"t":"慢速线: 4.61","r":"yellow"},
{"p":4,"x":13.58,"t":"MACD: -2.73","r":"magenta"},
{"p":4,"x":18.49,"t":"强","r":"red"},
{"p":4,"x":19.5,"t":"-","r":"gray"},
{"p":4,"x":20.0,"t":"弱: 4.61","r":"sky"},
{"p":5,"x":-0.25,"t":"◎","r":"gray"},
{"p":5,"x":0.63,"t":"神鱼量能","r":"gray"},
{"p":5,"x":4.03,"t":"神鱼总量: 1709026304.00","r":"white"},
{"p":5,"x":13.33,"t":"神鱼启动: 598505920.00","r":"white"},
{"p":5,"x":22.01,"t":"量比: 1.57","r":"olive"},
{"p":5,"x":25.66,"t":"倍量: 0.00","r":"yellow"},
{"p":5,"x":29.31,"t":"倍缩: 0.00","r":"magenta"},
{"p":5,"x":33.08,"t":"百低: 0.00","r":"blue"},
{"p":5,"x":36.86,"t":"平量: 0.00","r":"white"},
{"p":5,"x":40.63,"t":"天量: 0.00","r":"red"},
{"p":5,"x":44.28,"t":"量王: 0.00","r":"green"},
{"p":5,"x":47.92,"t":"倍数: 1.60","r":"yellow"}
],
"sym":[
{"p":0,"i":117.4,"v":190.4,"t":"←192.80","r":"gray"},
{"p":0,"i":18.5,"v":58.4,"t":"←58.22","r":"gray"},
{"p":4,"i":37,"v":4.1,"t":"↓","r":"green"},
{"p":4,"i":52,"v":9.3,"t":"↓","r":"green"},
{"p":4,"i":67,"v":5.3,"t":"↓","r":"green"},
{"p":4,"i":69,"v":5.3,"t":"↓","r":"green"},
{"p":4,"i":109,"v":10.6,"t":"↓","r":"green"},
{"p":4,"i":21,"v":-0.95,"t":"↑","r":"red"},
{"p":4,"i":92,"v":-0.9,"t":"↑","r":"red"},
{"p":5,"i":16,"v":5760,"t":"!","r":"teal"},
{"p":5,"i":50,"v":12600,"t":"!","r":"teal"},
{"p":5,"i":51,"v":12600,"t":"!","r":"teal"},
{"p":5,"i":56,"v":10320,"t":"!","r":"teal"},
{"p":5,"i":58,"v":11760,"t":"!","r":"teal"},
{"p":5,"i":69,"v":14500,"t":"!","r":"teal"},
{"p":5,"i":81,"v":10800,"t":"!","r":"teal"},
{"p":5,"i":85,"v":9960,"t":"!","r":"teal"},
{"p":5,"i":128,"v":15100,"t":"!","r":"teal"}
],
"mk":[{"x":6,"t":"增","r":"mred"},{"x":39,"t":"财","r":"mblue"},{"x":42,"t":"涨","r":"mred"},{"x":86,"t":"业","r":"morg"},{"x":92,"t":"预","r":"morg"}]
},
"vconcat":[
{
 "width":1056,"height":271,
 "resolve":{"scale":{"color":"independent","fill":"independent","stroke":"independent"}},
 "layer":[
  {"data":{"name":"k"},"mark":{"type":"rule","strokeWidth":1,"clip":true},
   "encoding":{
    "x":{"field":"i","type":"quantitative","scale":{"domain":[-0.2516,132.58],"nice":false,"zero":false},"axis":null},
    "y":{"field":"l","type":"quantitative","scale":{"domain":[52.98,191.95],"nice":false,"zero":false},
         "axis":{"title":null,"orient":"right","labels":false,"values":[60,70,80,90,100,110,120,130,140,150,160,170,180,190],"grid":true,"gridOpacity":{"condition":{"test":"datum.value % 20 === 0","value":1},"value":0}}},
    "y2":{"field":"h"},
    "color":{"field":"k","type":"nominal","scale":{"domain":["up","dn","mag","yel","grn"],"range":["#c83c3c","#54f0f0","#900090","#b0b000","#00b400"]},"legend":null}
   }},
  {"data":{"name":"k"},"mark":{"type":"bar","strokeWidth":1,"clip":true},
   "encoding":{
    "x":{"field":"i","type":"quantitative","axis":null},
    "y":{"field":"o","type":"quantitative"},
    "y2":{"field":"c"},
    "size":{"value":5},
    "fill":{"field":"k","type":"nominal","scale":{"domain":["up","dn","mag","yel","grn"],"range":["#000000","#54f0f0","#ff00ff","#ffff00","#00ff00"]},"legend":null},
    "stroke":{"field":"k","type":"nominal","scale":{"domain":["up","dn","mag","yel","grn"],"range":["#d83c3c","#54f0f0","#ff00ff","#ffff00","#00ff00"]},"legend":null}
   }},
  {"data":{"name":"ma60"},"mark":{"type":"line","color":"#a81414","strokeWidth":1,"strokeDash":[2,2],"interpolate":"monotone"},
   "encoding":{"x":{"field":"i","type":"quantitative","axis":null},"y":{"field":"v","type":"quantitative"}}},
  {"data":{"name":"ma20"},"mark":{"type":"line","color":"#a8a800","strokeWidth":1.2,"interpolate":"monotone"},
   "encoding":{"x":{"field":"i","type":"quantitative","axis":null},"y":{"field":"v","type":"quantitative"}}},
  {"data":{"name":"ma5"},"mark":{"type":"line","color":"#c8c8c8","strokeWidth":1,"interpolate":"monotone"},
   "encoding":{"x":{"field":"i","type":"quantitative","axis":null},"y":{"field":"v","type":"quantitative"}}},
  {"data":{"name":"yl"},"transform":[{"filter":"datum.p === 1"}],
   "mark":{"type":"text","align":"left","baseline":"middle","font":"Liberation Sans","fontSize":6.9,"color":"#b01c1c"},
   "encoding":{"x":{"datum":132.89,"type":"quantitative","axis":null},"y":{"field":"v","type":"quantitative"},"text":{"field":"s"}}},
  {"data":{"name":"txt"},"transform":[{"filter":"datum.p === 0"}],
   "mark":{"type":"text","align":"left","baseline":"middle","fontSize":6},
   "encoding":{"x":{"field":"x","type":"quantitative","axis":null},"y":{"datum":190.1,"type":"quantitative"},"text":{"field":"t"},
    "color":{"field":"r","type":"nominal","scale":{"domain":["gray","white","yellow","green","blue","red","magenta","olive","sky","teal"],"range":["#b8b8b8","#e0e0e0","#e6e600","#00c800","#2040ff","#ff2020","#e020e0","#a0a000","#3a8ad8","#1a8c8c"]},"legend":null}}},
  {"data":{"name":"sym"},"transform":[{"filter":"datum.p === 0"}],
   "mark":{"type":"text","align":"left","baseline":"middle","fontSize":6.5,"font":"Liberation Sans"},
   "encoding":{"x":{"field":"i","type":"quantitative","axis":null},"y":{"field":"v","type":"quantitative"},"text":{"field":"t"},
    "color":{"field":"r","type":"nominal","scale":{"domain":["gray","white","yellow","green","blue","red","magenta","olive","sky","teal"],"range":["#b8b8b8","#e0e0e0","#e6e600","#00c800","#2040ff","#ff2020","#e020e0","#a0a000","#3a8ad8","#1a8c8c"]},"legend":null}}},
  {"data":{"name":"mk"},"mark":{"type":"square","size":40,"opacity":1},
   "encoding":{"x":{"field":"x","type":"quantitative","axis":null},"y":{"datum":54.93,"type":"quantitative"},
    "fill":{"field":"r","type":"nominal","scale":{"domain":["mred","mblue","morg"],"range":["#b42828","#5a78a8","#c8783c"]},"legend":null}}},
  {"data":{"name":"mk"},"mark":{"type":"text","fontSize":5,"color":"#ffffff","baseline":"middle","align":"center"},
   "encoding":{"x":{"field":"x","type":"quantitative","axis":null},"y":{"datum":54.93,"type":"quantitative"},"text":{"field":"t"}}},
  {"data":{"values":[{}]},"mark":{"type":"rect","fill":"#000080","stroke":"#3c3cff","strokeWidth":0.8},
   "encoding":{"x":{"datum":132.6,"type":"quantitative","axis":null},"x2":{"datum":135.5},"y":{"datum":64.0,"type":"quantitative"},"y2":{"datum":67.3}}},
  {"data":{"values":[{}]},"mark":{"type":"text","text":"63.23","font":"Liberation Sans","fontSize":6.8,"color":"#c8c8ff","align":"center","baseline":"middle"},
   "encoding":{"x":{"datum":134.05,"type":"quantitative","axis":null},"y":{"datum":65.67,"type":"quantitative"}}}
 ]
},
{
 "width":1056,"height":95,
 "resolve":{"scale":{"color":"independent","fill":"independent","stroke":"independent"}},
 "layer":[
  {"data":{"name":"k"},"mark":{"type":"bar","strokeWidth":1},
   "encoding":{
    "x":{"field":"i","type":"quantitative","scale":{"domain":[-0.2516,132.58],"nice":false,"zero":false},"axis":null},
    "y":{"field":"cm","type":"quantitative","scale":{"domain":[-1.45,113.0],"nice":false,"zero":false},
         "axis":{"title":null,"orient":"right","labels":false,"values":[20,40,60,80,100],"grid":true}},
    "y2":{"datum":0},
    "size":{"value":4},
    "fill":{"field":"ck","type":"nominal","scale":{"domain":["h","sv","gn","rd","wt"],"range":["#000000","#c8c8c8","#00ff00","#ff0000","#ffffff"]},"legend":null},
    "stroke":{"field":"ck","type":"nominal","scale":{"domain":["h","sv","gn","rd","wt"],"range":["#8a8a8a","#c8c8c8","#00ff00","#ff0000","#ffffff"]},"legend":null}
   }},
  {"data":{"values":[{}]},"mark":{"type":"rule","color":"#8c0000","strokeWidth":1},
   "encoding":{"y":{"datum":113.0,"type":"quantitative"}}},
  {"data":{"name":"yl"},"transform":[{"filter":"datum.p === 2"}],
   "mark":{"type":"text","align":"left","baseline":"middle","font":"Liberation Sans","fontSize":6.9,"color":"#b01c1c"},
   "encoding":{"x":{"datum":132.89,"type":"quantitative","axis":null},"y":{"field":"v","type":"quantitative"},"text":{"field":"s"}}},
  {"data":{"name":"txt"},"transform":[{"filter":"datum.p === 2"}],
   "mark":{"type":"text","align":"left","baseline":"middle","fontSize":5.8},
   "encoding":{"x":{"field":"x","type":"quantitative","axis":null},"y":{"datum":108.8,"type":"quantitative"},"text":{"field":"t"},
    "color":{"field":"r","type":"nominal","scale":{"domain":["gray","white","yellow","green","blue","red","magenta","olive","sky","teal"],"range":["#b8b8b8","#e0e0e0","#e6e600","#00c800","#2040ff","#ff2020","#e020e0","#a0a000","#3a8ad8","#1a8c8c"]},"legend":null}}}
 ]
},
{
 "width":1056,"height":94,
 "resolve":{"scale":{"color":"independent","fill":"independent","stroke":"independent"}},
 "layer":[
  {"data":{"name":"k"},"mark":{"type":"bar","strokeWidth":1},
   "encoding":{
    "x":{"field":"i","type":"quantitative","scale":{"domain":[-0.2516,132.58],"nice":false,"zero":false},"axis":null},
    "y":{"field":"t","type":"quantitative","scale":{"domain":[-0.064,11.91],"nice":false,"zero":false},
         "axis":{"title":null,"orient":"right","labels":false,"values":[2,4,6,8,10],"grid":true}},
    "y2":{"datum":0},
    "size":{"value":4},
    "fill":{"field":"tk","type":"nominal","scale":{"domain":["h","b","w"],"range":["#000000","#1020e6","#ffffff"]},"legend":null},
    "stroke":{"field":"tk","type":"nominal","scale":{"domain":["h","b","w"],"range":["#8a8a8a","#5a64ff","#ffffff"]},"legend":null}
   }},
  {"data":{"name":"tavg"},"mark":{"type":"line","color":"#d8d8d8","strokeWidth":1,"strokeDash":[2,2],"interpolate":"step-after"},
   "encoding":{"x":{"field":"i","type":"quantitative","axis":null},"y":{"field":"v","type":"quantitative"}}},
  {"data":{"values":[{}]},"mark":{"type":"rule","color":"#8c0000","strokeWidth":1},
   "encoding":{"y":{"datum":11.91,"type":"quantitative"}}},
  {"data":{"name":"yl"},"transform":[{"filter":"datum.p === 3"}],
   "mark":{"type":"text","align":"left","baseline":"middle","font":"Liberation Sans","fontSize":6.9,"color":"#b01c1c"},
   "encoding":{"x":{"datum":132.89,"type":"quantitative","axis":null},"y":{"field":"v","type":"quantitative"},"text":{"field":"s"}}},
  {"data":{"name":"txt"},"transform":[{"filter":"datum.p === 3"}],
   "mark":{"type":"text","align":"left","baseline":"middle","fontSize":5.8},
   "encoding":{"x":{"field":"x","type":"quantitative","axis":null},"y":{"datum":11.42,"type":"quantitative"},"text":{"field":"t"},
    "color":{"field":"r","type":"nominal","scale":{"domain":["gray","white","yellow","green","blue","red","magenta","olive","sky","teal"],"range":["#b8b8b8","#e0e0e0","#e6e600","#00c800","#2040ff","#ff2020","#e020e0","#a0a000","#3a8ad8","#1a8c8c"]},"legend":null}}}
 ]
},
{
 "width":1056,"height":95,
 "resolve":{"scale":{"color":"independent","fill":"independent","stroke":"independent"}},
 "layer":[
  {"data":{"name":"k"},"mark":{"type":"bar"},
   "encoding":{
    "x":{"field":"i","type":"quantitative","scale":{"domain":[-0.2516,132.58],"nice":false,"zero":false},"axis":null},
    "y":{"field":"m","type":"quantitative","scale":{"domain":[-6.5,16.12],"nice":false,"zero":false},
         "axis":{"title":null,"orient":"right","labels":false,"values":[0,5,10],"grid":true,"gridOpacity":{"condition":{"test":"datum.value === 0","value":0},"value":1}}},
    "y2":{"datum":0},
    "size":{"value":5},
    "color":{"field":"mk","type":"nominal","scale":{"domain":["r","s","n"],"range":["#ff1e1e","#c8cccc","#00ff00"]},"legend":null}
   }},
  {"data":{"values":[{}]},"mark":{"type":"rule","color":"#9a9a9a","strokeWidth":1.2},
   "encoding":{"y":{"datum":0,"type":"quantitative"}}},
  {"data":{"name":"macdl"},"mark":{"type":"line","strokeWidth":1,"interpolate":"monotone"},
   "encoding":{"x":{"field":"i","type":"quantitative","axis":null},"y":{"field":"v","type":"quantitative"},"detail":{"field":"g"},
    "color":{"field":"c","type":"nominal","scale":{"domain":["dup","ddn","eup","edn"],"range":["#c41a1a","#2ea02e","#b4b400","#2a7ad0"]},"legend":null}}},
  {"data":{"name":"sym"},"transform":[{"filter":"datum.p === 4"}],
   "mark":{"type":"text","align":"center","baseline":"middle","fontSize":8,"fontWeight":"bold","font":"DejaVu Sans"},
   "encoding":{"x":{"field":"i","type":"quantitative","axis":null},"y":{"field":"v","type":"quantitative"},"text":{"field":"t"},
    "color":{"field":"r","type":"nominal","scale":{"domain":["gray","white","yellow","green","blue","red","magenta","olive","sky","teal"],"range":["#b8b8b8","#e0e0e0","#e6e600","#00c800","#2040ff","#ff2020","#e020e0","#a0a000","#3a8ad8","#1a8c8c"]},"legend":null}}},
  {"data":{"values":[{}]},"mark":{"type":"rule","color":"#8c0000","strokeWidth":1},
   "encoding":{"y":{"datum":16.12,"type":"quantitative"}}},
  {"data":{"name":"yl"},"transform":[{"filter":"datum.p === 4"}],
   "mark":{"type":"text","align":"left","baseline":"middle","font":"Liberation Sans","fontSize":6.9,"color":"#b01c1c"},
   "encoding":{"x":{"datum":132.89,"type":"quantitative","axis":null},"y":{"field":"v","type":"quantitative"},"text":{"field":"s"}}},
  {"data":{"name":"txt"},"transform":[{"filter":"datum.p === 4"}],
   "mark":{"type":"text","align":"left","baseline":"middle","fontSize":5.8},
   "encoding":{"x":{"field":"x","type":"quantitative","axis":null},"y":{"datum":15.2,"type":"quantitative"},"text":{"field":"t"},
    "color":{"field":"r","type":"nominal","scale":{"domain":["gray","white","yellow","green","blue","red","magenta","olive","sky","teal"],"range":["#b8b8b8","#e0e0e0","#e6e600","#00c800","#2040ff","#ff2020","#e020e0","#a0a000","#3a8ad8","#1a8c8c"]},"legend":null}}}
 ]
},
{
 "width":1056,"height":94,
 "resolve":{"scale":{"color":"independent","fill":"independent","stroke":"independent"}},
 "layer":[
  {"data":{"name":"k"},"mark":{"type":"bar","strokeWidth":1},
   "encoding":{
    "x":{"field":"i","type":"quantitative","scale":{"domain":[-0.2516,132.58],"nice":false,"zero":false},"axis":null},
    "y":{"field":"v","type":"quantitative","scale":{"domain":[0,33813],"nice":false,"zero":false},
         "axis":{"title":null,"orient":"right","labels":false,"values":[10000,15000,20000,25000,30000],"grid":true,"gridOpacity":{"condition":{"test":"datum.value % 10000 === 0","value":1},"value":0}}},
    "y2":{"datum":0},
    "size":{"value":5},
    "fill":{"field":"vk","type":"nominal","scale":{"domain":["up","dn","bl","wh"],"range":["#000000","#54f8f8","#1020e6","#ffffff"]},"legend":null},
    "stroke":{"field":"vk","type":"nominal","scale":{"domain":["up","dn","bl","wh"],"range":["#b41a1a","#54f8f8","#1020e6","#ffffff"]},"legend":null}
   }},
  {"data":{"name":"k"},"transform":[{"filter":"isValid(datum.vi)"}],"mark":{"type":"bar"},
   "encoding":{
    "x":{"field":"i","type":"quantitative","axis":null},
    "y":{"field":"vi","type":"quantitative"},
    "y2":{"datum":0},
    "size":{"value":2},
    "color":{"field":"vik","type":"nominal","scale":{"domain":["yel","red","wht","mag","pnk"],"range":["#ffff00","#ff1e1e","#ffffff","#ff00ff","#ff9a9a"]},"legend":null}
   }},
  {"data":{"name":"vavg"},"mark":{"type":"line","color":"#d8d8d8","strokeWidth":1,"strokeDash":[2,2],"interpolate":"step-after"},
   "encoding":{"x":{"field":"i","type":"quantitative","axis":null},"y":{"field":"v","type":"quantitative"}}},
  {"data":{"name":"sym"},"transform":[{"filter":"datum.p === 5"}],
   "mark":{"type":"text","align":"center","baseline":"middle","fontSize":7,"font":"Liberation Sans"},
   "encoding":{"x":{"field":"i","type":"quantitative","axis":null},"y":{"field":"v","type":"quantitative"},"text":{"field":"t"},
    "color":{"field":"r","type":"nominal","scale":{"domain":["gray","white","yellow","green","blue","red","magenta","olive","sky","teal"],"range":["#b8b8b8","#e0e0e0","#e6e600","#00c800","#2040ff","#ff2020","#e020e0","#a0a000","#3a8ad8","#1a8c8c"]},"legend":null}}},
  {"data":{"values":[{}]},"mark":{"type":"rule","color":"#8c0000","strokeWidth":1},
   "encoding":{"y":{"datum":33813,"type":"quantitative"}}},
  {"data":{"name":"yl"},"transform":[{"filter":"datum.p === 5"}],
   "mark":{"type":"text","align":"left","baseline":"middle","font":"Liberation Sans","fontSize":6.9,"color":"#b01c1c"},
   "encoding":{"x":{"datum":132.89,"type":"quantitative","axis":null},"y":{"field":"v","type":"quantitative"},"text":{"field":"s"}}},
  {"data":{"name":"txt"},"transform":[{"filter":"datum.p === 5"}],
   "mark":{"type":"text","align":"left","baseline":"middle","fontSize":5.8},
   "encoding":{"x":{"field":"x","type":"quantitative","axis":null},"y":{"datum":32600,"type":"quantitative"},"text":{"field":"t"},
    "color":{"field":"r","type":"nominal","scale":{"domain":["gray","white","yellow","green","blue","red","magenta","olive","sky","teal"],"range":["#b8b8b8","#e0e0e0","#e6e600","#00c800","#2040ff","#ff2020","#e020e0","#a0a000","#3a8ad8","#1a8c8c"]},"legend":null}}},
  {"data":{"values":[{}]},"mark":{"type":"rect","fill":"#000000","stroke":"#8c0000","strokeWidth":1},
   "encoding":{"x":{"datum":132.75,"type":"quantitative","axis":null},"x2":{"datum":135.3},"y":{"datum":150,"type":"quantitative"},"y2":{"datum":3100}}},
  {"data":{"values":[{}]},"mark":{"type":"text","text":"X10万","fontSize":6,"color":"#b01c1c","align":"center","baseline":"middle"},
   "encoding":{"x":{"datum":134.0,"type":"quantitative","axis":null},"y":{"datum":1600,"type":"quantitative"}}}
 ]
}
]
}
